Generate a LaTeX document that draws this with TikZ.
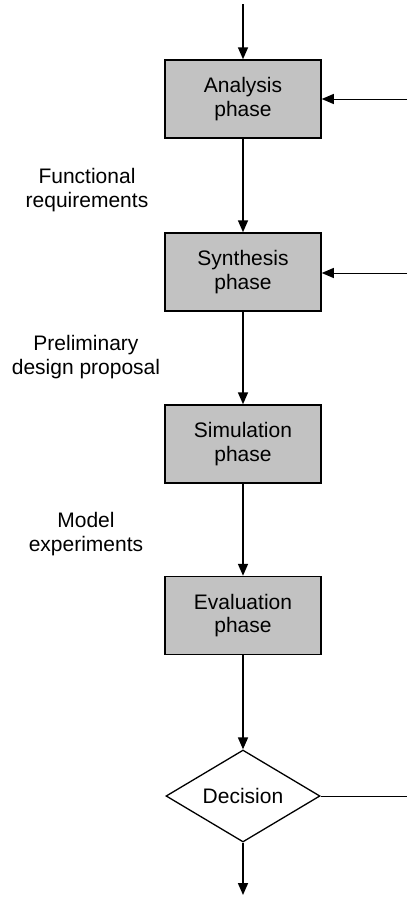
\documentclass[tikz,border=0pt]{standalone}
\usepackage{fontspec}
\setmainfont{Liberation Sans}
\usetikzlibrary{shapes.geometric,arrows.meta}
\begin{document}
\begin{tikzpicture}[x=1pt,y=-1pt,
  every node/.style={font=\fontsize{21}{23.5}\selectfont, align=center},
  phase/.style={draw=black, line width=1.5pt, fill=black!24,
    minimum width=156pt, minimum height=78pt, inner sep=0pt},
  decide/.style={draw=black, line width=1.3pt, diamond, aspect=1.67,
    minimum width=154pt, minimum height=92pt, inner sep=0pt},
  flow/.style={line width=1.7pt, -{Triangle[length=12pt,width=10pt]}},
  feed/.style={line width=1pt, -{Triangle[length=12pt,width=10pt]}},
  label/.style={text=black}]
  \useasboundingbox (0,0) rectangle (407,897);

  % phase boxes along the main flow
  \node[phase] (ana) at (243,99)  {Analysis\\phase};
  \node[phase] (syn) at (243,272) {Synthesis\\phase};
  \node[phase] (sim) at (243,444) {Simulation\\phase};
  \node[phase] (eva) at (243,615.5) {Evaluation\\phase};
  \node[decide] (dec) at (243,796) {Decision};

  % free ends of the connectors
  \coordinate (start) at (243,4);
  \coordinate (finish) at (243,895);
  \coordinate (fbA) at (407,99);
  \coordinate (fbS) at (407,273);
  \coordinate (fbD) at (407,796);

  % intermediate products
  \node[label] (fr) at (87,190) {Functional\\requirements};
  \node[label] (pd) at (86,357) {Preliminary\\design proposal};
  \node[label] (me) at (86,534) {Model\\experiments};

  % main flow
  \draw[flow] (start) -- (ana.north);
  \draw[flow] (ana.south) -- (syn.north);
  \draw[flow] (syn.south) -- (sim.north);
  \draw[flow] (sim.south) -- (eva.north);
  \draw[flow] (eva.south) -- (dec.north);
  \draw[flow] (dec.south) -- (finish);

  % feedback lines from the right
  \draw[feed] (fbA) -- (ana.east |- fbA);
  \draw[feed] (fbS) -- (syn.east |- fbS);
  \draw[line width=1pt] (dec.east) -- (fbD);
\end{tikzpicture}
\end{document}
